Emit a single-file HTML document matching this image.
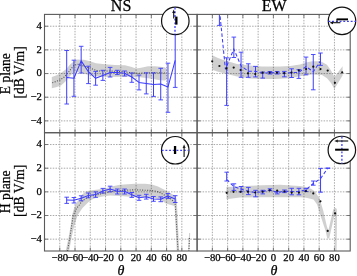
<!DOCTYPE html>
<html><head><meta charset="utf-8"><style>html,body{margin:0;padding:0;background:#fff;width:357px;height:276px;overflow:hidden}svg{display:block;will-change:transform}</style></head><body>
<svg width="357" height="276" viewBox="0 0 357 276">
<style>.g{stroke:#a0a0a0;stroke-width:0.9;stroke-dasharray:1.5 1.25;fill:none}.t{stroke:#6a6a6a;stroke-width:0.9}.eb{stroke:#3c3cff;stroke-width:1.0;fill:none}.cap{stroke-width:0.9}.bl{stroke:#3c3cff;stroke-width:1.05;fill:none;stroke-linejoin:round}.bd{stroke:#3c3cff;stroke-width:1.05;fill:none;stroke-dasharray:3.5 2.2}.sim{stroke:#505050;stroke-width:1.1;fill:none;stroke-dasharray:1 1.5}.fr{stroke:#5a5a5a;stroke-width:1.1;fill:none}text{font-family:"Liberation Serif",serif;fill:#000;stroke:#000;stroke-width:0.25}</style>
<rect width="357" height="276" fill="#fff"/>
<defs>
<clipPath id="cTL"><rect x="44.50" y="14.40" width="152.60" height="118.30"/></clipPath>
<clipPath id="cTR"><rect x="197.10" y="14.40" width="153.10" height="118.30"/></clipPath>
<clipPath id="cBL"><rect x="44.50" y="132.70" width="152.60" height="118.30"/></clipPath>
<clipPath id="cBR"><rect x="197.10" y="132.70" width="153.10" height="118.30"/></clipPath>
</defs>
<g clip-path="url(#cTL)">
<line x1="59.76" y1="14.40" x2="59.76" y2="132.70" class="g"/>
<line x1="75.02" y1="14.40" x2="75.02" y2="132.70" class="g"/>
<line x1="90.28" y1="14.40" x2="90.28" y2="132.70" class="g"/>
<line x1="105.54" y1="14.40" x2="105.54" y2="132.70" class="g"/>
<line x1="120.80" y1="14.40" x2="120.80" y2="132.70" class="g"/>
<line x1="136.06" y1="14.40" x2="136.06" y2="132.70" class="g"/>
<line x1="151.32" y1="14.40" x2="151.32" y2="132.70" class="g"/>
<line x1="166.58" y1="14.40" x2="166.58" y2="132.70" class="g"/>
<line x1="181.84" y1="14.40" x2="181.84" y2="132.70" class="g"/>
<line x1="44.50" y1="120.87" x2="197.10" y2="120.87" class="g"/>
<line x1="44.50" y1="97.21" x2="197.10" y2="97.21" class="g"/>
<line x1="44.50" y1="73.55" x2="197.10" y2="73.55" class="g"/>
<line x1="44.50" y1="49.89" x2="197.10" y2="49.89" class="g"/>
<line x1="44.50" y1="26.23" x2="197.10" y2="26.23" class="g"/>
<polygon points="51.80,76.90 56.00,75.50 61.00,73.00 66.30,69.00 70.00,64.50 74.00,61.20 77.00,59.60 84.00,59.80 90.00,61.20 96.00,63.20 105.00,64.30 115.00,65.00 125.00,65.30 131.00,66.80 136.00,68.40 141.00,67.80 148.00,66.30 155.00,66.20 160.00,66.80 164.50,67.30 166.80,68.50 166.80,79.50 164.50,80.50 160.00,80.20 150.00,78.60 140.00,77.20 125.00,76.80 110.00,76.90 100.00,76.60 92.00,75.80 86.00,74.20 80.00,72.60 76.00,71.80 73.00,73.00 70.00,76.00 66.30,80.80 61.00,85.40 56.00,87.30 51.80,88.30" fill="#000" fill-opacity="0.185"/>
<polyline points="52.30,82.80 59.80,80.10 64.40,76.90 68.90,71.60 74.10,65.10 78.00,64.30 82.00,65.50 88.00,67.40 93.00,69.20 98.00,71.00 110.00,71.00 120.00,71.50 130.00,72.60 137.00,73.40 145.00,72.90 152.00,72.60 160.00,72.90 166.50,73.00" class="sim"/>
<polyline points="66.70,77.50 73.93,78.30 81.17,60.90 88.40,71.70 95.63,78.30 102.87,75.40 110.10,72.50 117.33,72.50 124.56,73.20 131.80,77.00 139.03,82.40 146.26,83.50 153.50,84.50 160.73,84.10 167.96,87.10 175.19,60.30" class="bl"/>
<line x1="66.70" y1="50.50" x2="66.70" y2="104.00" class="eb"/>
<line x1="64.40" y1="50.50" x2="69.00" y2="50.50" class="eb cap"/>
<line x1="64.40" y1="104.00" x2="69.00" y2="104.00" class="eb cap"/>
<line x1="73.93" y1="60.20" x2="73.93" y2="96.30" class="eb"/>
<line x1="71.63" y1="60.20" x2="76.23" y2="60.20" class="eb cap"/>
<line x1="71.63" y1="96.30" x2="76.23" y2="96.30" class="eb cap"/>
<line x1="81.17" y1="46.30" x2="81.17" y2="73.00" class="eb"/>
<line x1="78.87" y1="46.30" x2="83.47" y2="46.30" class="eb cap"/>
<line x1="78.87" y1="73.00" x2="83.47" y2="73.00" class="eb cap"/>
<line x1="88.40" y1="66.20" x2="88.40" y2="83.60" class="eb"/>
<line x1="86.10" y1="66.20" x2="90.70" y2="66.20" class="eb cap"/>
<line x1="86.10" y1="83.60" x2="90.70" y2="83.60" class="eb cap"/>
<line x1="95.63" y1="71.40" x2="95.63" y2="85.20" class="eb"/>
<line x1="93.33" y1="71.40" x2="97.93" y2="71.40" class="eb cap"/>
<line x1="93.33" y1="85.20" x2="97.93" y2="85.20" class="eb cap"/>
<line x1="102.87" y1="70.30" x2="102.87" y2="80.40" class="eb"/>
<line x1="100.57" y1="70.30" x2="105.17" y2="70.30" class="eb cap"/>
<line x1="100.57" y1="80.40" x2="105.17" y2="80.40" class="eb cap"/>
<line x1="110.10" y1="67.40" x2="110.10" y2="77.00" class="eb"/>
<line x1="107.80" y1="67.40" x2="112.40" y2="67.40" class="eb cap"/>
<line x1="107.80" y1="77.00" x2="112.40" y2="77.00" class="eb cap"/>
<line x1="117.33" y1="70.30" x2="117.33" y2="74.60" class="eb"/>
<line x1="115.03" y1="70.30" x2="119.63" y2="70.30" class="eb cap"/>
<line x1="115.03" y1="74.60" x2="119.63" y2="74.60" class="eb cap"/>
<line x1="124.56" y1="71.00" x2="124.56" y2="76.00" class="eb"/>
<line x1="122.26" y1="71.00" x2="126.86" y2="71.00" class="eb cap"/>
<line x1="122.26" y1="76.00" x2="126.86" y2="76.00" class="eb cap"/>
<line x1="131.80" y1="73.00" x2="131.80" y2="82.30" class="eb"/>
<line x1="129.50" y1="73.00" x2="134.10" y2="73.00" class="eb cap"/>
<line x1="129.50" y1="82.30" x2="134.10" y2="82.30" class="eb cap"/>
<line x1="139.03" y1="75.10" x2="139.03" y2="89.90" class="eb"/>
<line x1="136.73" y1="75.10" x2="141.33" y2="75.10" class="eb cap"/>
<line x1="136.73" y1="89.90" x2="141.33" y2="89.90" class="eb cap"/>
<line x1="146.26" y1="72.90" x2="146.26" y2="93.90" class="eb"/>
<line x1="143.96" y1="72.90" x2="148.56" y2="72.90" class="eb cap"/>
<line x1="143.96" y1="93.90" x2="148.56" y2="93.90" class="eb cap"/>
<line x1="153.50" y1="72.90" x2="153.50" y2="96.40" class="eb"/>
<line x1="151.20" y1="72.90" x2="155.80" y2="72.90" class="eb cap"/>
<line x1="151.20" y1="96.40" x2="155.80" y2="96.40" class="eb cap"/>
<line x1="160.73" y1="68.30" x2="160.73" y2="99.90" class="eb"/>
<line x1="158.43" y1="68.30" x2="163.03" y2="68.30" class="eb cap"/>
<line x1="158.43" y1="99.90" x2="163.03" y2="99.90" class="eb cap"/>
<line x1="167.96" y1="63.20" x2="167.96" y2="112.30" class="eb"/>
<line x1="165.66" y1="63.20" x2="170.26" y2="63.20" class="eb cap"/>
<line x1="165.66" y1="112.30" x2="170.26" y2="112.30" class="eb cap"/>
<line x1="175.19" y1="20.00" x2="175.19" y2="87.40" class="eb"/>
<line x1="172.89" y1="20.00" x2="177.50" y2="20.00" class="eb cap"/>
<line x1="172.89" y1="87.40" x2="177.50" y2="87.40" class="eb cap"/>
</g>
<g clip-path="url(#cTR)">
<line x1="212.36" y1="14.40" x2="212.36" y2="132.70" class="g"/>
<line x1="227.62" y1="14.40" x2="227.62" y2="132.70" class="g"/>
<line x1="242.88" y1="14.40" x2="242.88" y2="132.70" class="g"/>
<line x1="258.14" y1="14.40" x2="258.14" y2="132.70" class="g"/>
<line x1="273.40" y1="14.40" x2="273.40" y2="132.70" class="g"/>
<line x1="288.66" y1="14.40" x2="288.66" y2="132.70" class="g"/>
<line x1="303.92" y1="14.40" x2="303.92" y2="132.70" class="g"/>
<line x1="319.18" y1="14.40" x2="319.18" y2="132.70" class="g"/>
<line x1="334.44" y1="14.40" x2="334.44" y2="132.70" class="g"/>
<line x1="197.10" y1="120.87" x2="350.20" y2="120.87" class="g"/>
<line x1="197.10" y1="97.21" x2="350.20" y2="97.21" class="g"/>
<line x1="197.10" y1="73.55" x2="350.20" y2="73.55" class="g"/>
<line x1="197.10" y1="49.89" x2="350.20" y2="49.89" class="g"/>
<line x1="197.10" y1="26.23" x2="350.20" y2="26.23" class="g"/>
<polygon points="212.20,55.20 218.00,58.00 225.00,60.50 232.00,62.40 237.00,64.00 250.00,65.60 262.00,66.40 280.00,66.60 290.00,65.90 300.00,64.40 306.00,62.40 312.00,61.20 318.00,61.20 322.00,62.00 327.00,64.80 331.00,70.50 334.40,77.00 342.60,66.20 342.60,75.60 334.40,89.00 331.00,83.00 327.00,78.20 322.00,75.00 312.00,74.50 300.00,76.20 290.00,78.20 275.00,79.00 262.00,79.00 250.00,78.50 237.00,76.40 225.00,73.60 218.00,71.80 212.20,69.70" fill="#000" fill-opacity="0.185"/>
<polyline points="219.00,5.00 225.40,69.30 233.84,49.00 241.06,65.90 248.28,71.20 255.50,71.20 262.72,73.30 269.94,72.60 277.16,72.80 284.38,73.20 291.60,72.60 298.82,72.50 306.04,66.50 313.26,71.80 320.48,61.00" class="bd"/>
<line x1="219.40" y1="0.00" x2="219.40" y2="25.40" class="eb"/>
<line x1="217.10" y1="0.00" x2="221.70" y2="0.00" class="eb cap"/>
<line x1="217.10" y1="25.40" x2="221.70" y2="25.40" class="eb cap"/>
<line x1="226.62" y1="57.80" x2="226.62" y2="105.40" class="eb"/>
<line x1="224.32" y1="57.80" x2="228.92" y2="57.80" class="eb cap"/>
<line x1="224.32" y1="105.40" x2="228.92" y2="105.40" class="eb cap"/>
<line x1="233.84" y1="37.10" x2="233.84" y2="57.50" class="eb"/>
<line x1="231.54" y1="37.10" x2="236.14" y2="37.10" class="eb cap"/>
<line x1="231.54" y1="57.50" x2="236.14" y2="57.50" class="eb cap"/>
<line x1="241.06" y1="52.20" x2="241.06" y2="77.30" class="eb"/>
<line x1="238.76" y1="52.20" x2="243.36" y2="52.20" class="eb cap"/>
<line x1="238.76" y1="77.30" x2="243.36" y2="77.30" class="eb cap"/>
<line x1="248.28" y1="63.80" x2="248.28" y2="77.30" class="eb"/>
<line x1="245.98" y1="63.80" x2="250.58" y2="63.80" class="eb cap"/>
<line x1="245.98" y1="77.30" x2="250.58" y2="77.30" class="eb cap"/>
<line x1="255.50" y1="66.40" x2="255.50" y2="76.90" class="eb"/>
<line x1="253.20" y1="66.40" x2="257.80" y2="66.40" class="eb cap"/>
<line x1="253.20" y1="76.90" x2="257.80" y2="76.90" class="eb cap"/>
<line x1="262.72" y1="72.10" x2="262.72" y2="78.10" class="eb"/>
<line x1="260.42" y1="72.10" x2="265.02" y2="72.10" class="eb cap"/>
<line x1="260.42" y1="78.10" x2="265.02" y2="78.10" class="eb cap"/>
<line x1="269.94" y1="71.50" x2="269.94" y2="74.00" class="eb"/>
<line x1="267.64" y1="71.50" x2="272.24" y2="71.50" class="eb cap"/>
<line x1="267.64" y1="74.00" x2="272.24" y2="74.00" class="eb cap"/>
<line x1="277.16" y1="71.50" x2="277.16" y2="74.00" class="eb"/>
<line x1="274.86" y1="71.50" x2="279.46" y2="71.50" class="eb cap"/>
<line x1="274.86" y1="74.00" x2="279.46" y2="74.00" class="eb cap"/>
<line x1="284.38" y1="71.40" x2="284.38" y2="76.80" class="eb"/>
<line x1="282.08" y1="71.40" x2="286.68" y2="71.40" class="eb cap"/>
<line x1="282.08" y1="76.80" x2="286.68" y2="76.80" class="eb cap"/>
<line x1="291.60" y1="68.80" x2="291.60" y2="77.50" class="eb"/>
<line x1="289.30" y1="68.80" x2="293.90" y2="68.80" class="eb cap"/>
<line x1="289.30" y1="77.50" x2="293.90" y2="77.50" class="eb cap"/>
<line x1="298.82" y1="69.70" x2="298.82" y2="78.40" class="eb"/>
<line x1="296.52" y1="69.70" x2="301.12" y2="69.70" class="eb cap"/>
<line x1="296.52" y1="78.40" x2="301.12" y2="78.40" class="eb cap"/>
<line x1="306.04" y1="57.10" x2="306.04" y2="74.80" class="eb"/>
<line x1="303.74" y1="57.10" x2="308.34" y2="57.10" class="eb cap"/>
<line x1="303.74" y1="74.80" x2="308.34" y2="74.80" class="eb cap"/>
<line x1="313.26" y1="54.50" x2="313.26" y2="89.80" class="eb"/>
<line x1="310.96" y1="54.50" x2="315.56" y2="54.50" class="eb cap"/>
<line x1="310.96" y1="89.80" x2="315.56" y2="89.80" class="eb cap"/>
<line x1="320.48" y1="53.00" x2="320.48" y2="65.40" class="eb"/>
<line x1="318.18" y1="53.00" x2="322.78" y2="53.00" class="eb cap"/>
<line x1="318.18" y1="65.40" x2="322.78" y2="65.40" class="eb cap"/>
<circle cx="212.20" cy="61.30" r="1.10" fill="#111"/>
<circle cx="219.40" cy="66.00" r="1.10" fill="#111"/>
<circle cx="226.50" cy="68.40" r="1.10" fill="#111"/>
<circle cx="233.70" cy="67.60" r="1.10" fill="#111"/>
<circle cx="240.60" cy="70.00" r="1.10" fill="#111"/>
<circle cx="247.90" cy="73.30" r="1.10" fill="#111"/>
<circle cx="255.20" cy="74.00" r="1.10" fill="#111"/>
<circle cx="262.60" cy="72.70" r="1.10" fill="#111"/>
<circle cx="269.70" cy="72.70" r="1.10" fill="#111"/>
<circle cx="276.90" cy="72.70" r="1.10" fill="#111"/>
<circle cx="284.20" cy="73.20" r="1.10" fill="#111"/>
<circle cx="291.50" cy="72.60" r="1.10" fill="#111"/>
<circle cx="298.80" cy="70.40" r="1.10" fill="#111"/>
<circle cx="306.10" cy="69.00" r="1.10" fill="#111"/>
<circle cx="313.30" cy="66.70" r="1.10" fill="#111"/>
<circle cx="320.50" cy="69.10" r="1.10" fill="#111"/>
<circle cx="327.70" cy="70.60" r="1.10" fill="#111"/>
<circle cx="334.90" cy="82.80" r="1.10" fill="#111"/>
<circle cx="342.20" cy="72.40" r="1.10" fill="#111"/>
</g>
<g clip-path="url(#cBL)">
<line x1="59.76" y1="132.70" x2="59.76" y2="251.00" class="g"/>
<line x1="75.02" y1="132.70" x2="75.02" y2="251.00" class="g"/>
<line x1="90.28" y1="132.70" x2="90.28" y2="251.00" class="g"/>
<line x1="105.54" y1="132.70" x2="105.54" y2="251.00" class="g"/>
<line x1="120.80" y1="132.70" x2="120.80" y2="251.00" class="g"/>
<line x1="136.06" y1="132.70" x2="136.06" y2="251.00" class="g"/>
<line x1="151.32" y1="132.70" x2="151.32" y2="251.00" class="g"/>
<line x1="166.58" y1="132.70" x2="166.58" y2="251.00" class="g"/>
<line x1="181.84" y1="132.70" x2="181.84" y2="251.00" class="g"/>
<line x1="44.50" y1="239.17" x2="197.10" y2="239.17" class="g"/>
<line x1="44.50" y1="215.51" x2="197.10" y2="215.51" class="g"/>
<line x1="44.50" y1="191.85" x2="197.10" y2="191.85" class="g"/>
<line x1="44.50" y1="168.19" x2="197.10" y2="168.19" class="g"/>
<line x1="44.50" y1="144.53" x2="197.10" y2="144.53" class="g"/>
<polygon points="65.60,251.50 68.50,238.00 70.60,226.00 72.10,215.00 74.10,208.00 76.30,203.00 78.50,200.00 80.00,197.50 82.00,194.50 86.00,191.50 90.00,190.40 100.00,189.20 106.00,188.30 110.00,186.80 120.00,184.80 135.00,183.80 145.00,183.80 152.00,184.60 158.00,186.50 165.90,190.60 171.00,193.50 175.60,196.00 176.80,200.00 179.20,251.50 176.80,251.50 174.60,206.00 170.00,204.80 165.90,203.50 160.00,199.60 155.00,198.30 150.00,197.70 140.00,197.30 130.00,196.70 120.00,195.90 110.00,195.40 106.00,195.90 100.00,196.90 95.00,198.20 92.00,199.60 88.00,202.40 85.00,205.50 82.50,208.00 77.70,215.00 74.20,226.00 71.50,238.00 69.00,251.50" fill="#000" fill-opacity="0.185"/>
<polyline points="67.50,251.00 69.80,238.00 71.60,226.00 73.10,216.20 76.10,209.10 79.20,205.10 82.00,201.00 86.30,198.30 90.70,196.20 95.00,195.30 102.00,193.60 110.00,191.80 125.00,190.20 135.00,189.80 150.00,190.40 155.00,191.00 160.40,192.70 165.90,196.00 171.30,199.20 175.10,203.00 175.80,212.00 178.00,251.00" class="sim"/>
<polygon points="188.10,251.50 189.10,233.00 190.20,233.00 189.40,251.50" fill="#000" fill-opacity="0.185"/>
<polyline points="189.40,238.00 188.90,251.00" class="sim"/>
<polyline points="66.70,200.10 73.93,200.30 81.17,198.30 88.40,195.40 95.63,194.60 102.87,191.00 110.10,189.00 117.33,191.20 124.56,191.20 131.80,194.80 139.03,197.80 146.26,196.70 153.50,198.90 160.73,199.30 167.96,196.00 175.19,198.90" class="bl"/>
<line x1="66.70" y1="197.20" x2="66.70" y2="203.40" class="eb"/>
<line x1="64.40" y1="197.20" x2="69.00" y2="197.20" class="eb cap"/>
<line x1="64.40" y1="203.40" x2="69.00" y2="203.40" class="eb cap"/>
<line x1="73.93" y1="197.50" x2="73.93" y2="203.00" class="eb"/>
<line x1="71.63" y1="197.50" x2="76.23" y2="197.50" class="eb cap"/>
<line x1="71.63" y1="203.00" x2="76.23" y2="203.00" class="eb cap"/>
<line x1="81.17" y1="195.80" x2="81.17" y2="200.80" class="eb"/>
<line x1="78.87" y1="195.80" x2="83.47" y2="195.80" class="eb cap"/>
<line x1="78.87" y1="200.80" x2="83.47" y2="200.80" class="eb cap"/>
<line x1="88.40" y1="193.00" x2="88.40" y2="197.80" class="eb"/>
<line x1="86.10" y1="193.00" x2="90.70" y2="193.00" class="eb cap"/>
<line x1="86.10" y1="197.80" x2="90.70" y2="197.80" class="eb cap"/>
<line x1="95.63" y1="191.90" x2="95.63" y2="197.30" class="eb"/>
<line x1="93.33" y1="191.90" x2="97.93" y2="191.90" class="eb cap"/>
<line x1="93.33" y1="197.30" x2="97.93" y2="197.30" class="eb cap"/>
<line x1="102.87" y1="188.40" x2="102.87" y2="193.00" class="eb"/>
<line x1="100.57" y1="188.40" x2="105.17" y2="188.40" class="eb cap"/>
<line x1="100.57" y1="193.00" x2="105.17" y2="193.00" class="eb cap"/>
<line x1="110.10" y1="186.20" x2="110.10" y2="191.80" class="eb"/>
<line x1="107.80" y1="186.20" x2="112.40" y2="186.20" class="eb cap"/>
<line x1="107.80" y1="191.80" x2="112.40" y2="191.80" class="eb cap"/>
<line x1="117.33" y1="189.00" x2="117.33" y2="194.00" class="eb"/>
<line x1="115.03" y1="189.00" x2="119.63" y2="189.00" class="eb cap"/>
<line x1="115.03" y1="194.00" x2="119.63" y2="194.00" class="eb cap"/>
<line x1="124.56" y1="189.00" x2="124.56" y2="194.00" class="eb"/>
<line x1="122.26" y1="189.00" x2="126.86" y2="189.00" class="eb cap"/>
<line x1="122.26" y1="194.00" x2="126.86" y2="194.00" class="eb cap"/>
<line x1="131.80" y1="192.50" x2="131.80" y2="197.40" class="eb"/>
<line x1="129.50" y1="192.50" x2="134.10" y2="192.50" class="eb cap"/>
<line x1="129.50" y1="197.40" x2="134.10" y2="197.40" class="eb cap"/>
<line x1="139.03" y1="195.30" x2="139.03" y2="200.30" class="eb"/>
<line x1="136.73" y1="195.30" x2="141.33" y2="195.30" class="eb cap"/>
<line x1="136.73" y1="200.30" x2="141.33" y2="200.30" class="eb cap"/>
<line x1="146.26" y1="194.30" x2="146.26" y2="199.10" class="eb"/>
<line x1="143.96" y1="194.30" x2="148.56" y2="194.30" class="eb cap"/>
<line x1="143.96" y1="199.10" x2="148.56" y2="199.10" class="eb cap"/>
<line x1="153.50" y1="196.50" x2="153.50" y2="201.30" class="eb"/>
<line x1="151.20" y1="196.50" x2="155.80" y2="196.50" class="eb cap"/>
<line x1="151.20" y1="201.30" x2="155.80" y2="201.30" class="eb cap"/>
<line x1="160.73" y1="196.90" x2="160.73" y2="201.70" class="eb"/>
<line x1="158.43" y1="196.90" x2="163.03" y2="196.90" class="eb cap"/>
<line x1="158.43" y1="201.70" x2="163.03" y2="201.70" class="eb cap"/>
<line x1="167.96" y1="193.60" x2="167.96" y2="198.40" class="eb"/>
<line x1="165.66" y1="193.60" x2="170.26" y2="193.60" class="eb cap"/>
<line x1="165.66" y1="198.40" x2="170.26" y2="198.40" class="eb cap"/>
<line x1="175.19" y1="195.70" x2="175.19" y2="202.50" class="eb"/>
<line x1="172.89" y1="195.70" x2="177.50" y2="195.70" class="eb cap"/>
<line x1="172.89" y1="202.50" x2="177.50" y2="202.50" class="eb cap"/>
</g>
<g clip-path="url(#cBR)">
<line x1="212.36" y1="132.70" x2="212.36" y2="251.00" class="g"/>
<line x1="227.62" y1="132.70" x2="227.62" y2="251.00" class="g"/>
<line x1="242.88" y1="132.70" x2="242.88" y2="251.00" class="g"/>
<line x1="258.14" y1="132.70" x2="258.14" y2="251.00" class="g"/>
<line x1="273.40" y1="132.70" x2="273.40" y2="251.00" class="g"/>
<line x1="288.66" y1="132.70" x2="288.66" y2="251.00" class="g"/>
<line x1="303.92" y1="132.70" x2="303.92" y2="251.00" class="g"/>
<line x1="319.18" y1="132.70" x2="319.18" y2="251.00" class="g"/>
<line x1="334.44" y1="132.70" x2="334.44" y2="251.00" class="g"/>
<line x1="197.10" y1="239.17" x2="350.20" y2="239.17" class="g"/>
<line x1="197.10" y1="215.51" x2="350.20" y2="215.51" class="g"/>
<line x1="197.10" y1="191.85" x2="350.20" y2="191.85" class="g"/>
<line x1="197.10" y1="168.19" x2="350.20" y2="168.19" class="g"/>
<line x1="197.10" y1="144.53" x2="350.20" y2="144.53" class="g"/>
<polygon points="226.40,186.90 240.00,186.20 262.00,185.20 280.00,184.80 300.00,186.00 306.00,187.00 311.00,188.80 315.00,191.50 319.50,198.50 323.20,210.50 326.80,226.00 328.30,230.50 333.20,209.50 335.50,207.80 336.80,209.00 337.00,214.00 336.60,251.50 335.10,251.50 335.00,216.00 334.60,214.50 329.20,238.50 327.20,238.20 325.60,231.00 320.80,216.50 317.10,204.40 313.50,199.50 306.00,197.80 300.00,197.30 280.00,197.20 262.00,197.30 240.00,197.50 226.40,199.30" fill="#000" fill-opacity="0.185"/>
<polyline points="226.70,179.50 233.92,186.70 241.14,189.00 248.36,191.40 255.58,192.50 262.80,191.70 270.02,189.80 277.24,192.60 284.46,191.20 291.68,191.50 298.90,191.50 306.12,189.70 313.34,183.50 320.56,178.50 327.78,168.20" class="bd"/>
<line x1="226.70" y1="172.20" x2="226.70" y2="181.00" class="eb"/>
<line x1="224.40" y1="172.20" x2="229.00" y2="172.20" class="eb cap"/>
<line x1="224.40" y1="181.00" x2="229.00" y2="181.00" class="eb cap"/>
<line x1="233.92" y1="183.80" x2="233.92" y2="190.40" class="eb"/>
<line x1="231.62" y1="183.80" x2="236.22" y2="183.80" class="eb cap"/>
<line x1="231.62" y1="190.40" x2="236.22" y2="190.40" class="eb cap"/>
<line x1="241.14" y1="186.50" x2="241.14" y2="191.80" class="eb"/>
<line x1="238.84" y1="186.50" x2="243.44" y2="186.50" class="eb cap"/>
<line x1="238.84" y1="191.80" x2="243.44" y2="191.80" class="eb cap"/>
<line x1="248.36" y1="187.40" x2="248.36" y2="194.60" class="eb"/>
<line x1="246.06" y1="187.40" x2="250.66" y2="187.40" class="eb cap"/>
<line x1="246.06" y1="194.60" x2="250.66" y2="194.60" class="eb cap"/>
<line x1="255.58" y1="190.30" x2="255.58" y2="196.80" class="eb"/>
<line x1="253.28" y1="190.30" x2="257.88" y2="190.30" class="eb cap"/>
<line x1="253.28" y1="196.80" x2="257.88" y2="196.80" class="eb cap"/>
<line x1="262.80" y1="190.30" x2="262.80" y2="193.90" class="eb"/>
<line x1="260.50" y1="190.30" x2="265.10" y2="190.30" class="eb cap"/>
<line x1="260.50" y1="193.90" x2="265.10" y2="193.90" class="eb cap"/>
<line x1="270.02" y1="188.80" x2="270.02" y2="190.60" class="eb"/>
<line x1="267.72" y1="188.80" x2="272.32" y2="188.80" class="eb cap"/>
<line x1="267.72" y1="190.60" x2="272.32" y2="190.60" class="eb cap"/>
<line x1="277.24" y1="191.70" x2="277.24" y2="193.90" class="eb"/>
<line x1="274.94" y1="191.70" x2="279.54" y2="191.70" class="eb cap"/>
<line x1="274.94" y1="193.90" x2="279.54" y2="193.90" class="eb cap"/>
<line x1="284.46" y1="190.00" x2="284.46" y2="192.60" class="eb"/>
<line x1="282.16" y1="190.00" x2="286.76" y2="190.00" class="eb cap"/>
<line x1="282.16" y1="192.60" x2="286.76" y2="192.60" class="eb cap"/>
<line x1="291.68" y1="188.30" x2="291.68" y2="194.80" class="eb"/>
<line x1="289.38" y1="188.30" x2="293.98" y2="188.30" class="eb cap"/>
<line x1="289.38" y1="194.80" x2="293.98" y2="194.80" class="eb cap"/>
<line x1="298.90" y1="188.30" x2="298.90" y2="194.80" class="eb"/>
<line x1="296.60" y1="188.30" x2="301.20" y2="188.30" class="eb cap"/>
<line x1="296.60" y1="194.80" x2="301.20" y2="194.80" class="eb cap"/>
<line x1="306.12" y1="188.40" x2="306.12" y2="191.50" class="eb"/>
<line x1="303.82" y1="188.40" x2="308.42" y2="188.40" class="eb cap"/>
<line x1="303.82" y1="191.50" x2="308.42" y2="191.50" class="eb cap"/>
<line x1="313.34" y1="181.00" x2="313.34" y2="185.20" class="eb"/>
<line x1="311.04" y1="181.00" x2="315.64" y2="181.00" class="eb cap"/>
<line x1="311.04" y1="185.20" x2="315.64" y2="185.20" class="eb cap"/>
<line x1="320.56" y1="168.40" x2="320.56" y2="192.20" class="eb"/>
<line x1="318.26" y1="168.40" x2="322.86" y2="168.40" class="eb cap"/>
<line x1="318.26" y1="192.20" x2="322.86" y2="192.20" class="eb cap"/>
<line x1="327.78" y1="168.00" x2="327.78" y2="168.40" class="eb"/>
<line x1="325.48" y1="168.00" x2="330.08" y2="168.00" class="eb cap"/>
<line x1="325.48" y1="168.40" x2="330.08" y2="168.40" class="eb cap"/>
<circle cx="226.70" cy="192.80" r="1.10" fill="#111"/>
<circle cx="233.50" cy="191.80" r="1.10" fill="#111"/>
<circle cx="240.60" cy="191.80" r="1.10" fill="#111"/>
<circle cx="247.90" cy="191.70" r="1.10" fill="#111"/>
<circle cx="255.20" cy="192.50" r="1.10" fill="#111"/>
<circle cx="262.50" cy="191.70" r="1.10" fill="#111"/>
<circle cx="269.70" cy="190.30" r="1.10" fill="#111"/>
<circle cx="277.20" cy="190.70" r="1.10" fill="#111"/>
<circle cx="284.40" cy="191.50" r="1.10" fill="#111"/>
<circle cx="291.70" cy="192.60" r="1.10" fill="#111"/>
<circle cx="298.90" cy="192.60" r="1.10" fill="#111"/>
<circle cx="305.90" cy="191.20" r="1.10" fill="#111"/>
<circle cx="313.30" cy="193.40" r="1.10" fill="#111"/>
<circle cx="320.40" cy="201.30" r="1.10" fill="#111"/>
<circle cx="327.70" cy="230.90" r="1.10" fill="#111"/>
<circle cx="335.10" cy="213.40" r="1.10" fill="#111"/>
</g>
<line x1="59.76" y1="132.70" x2="59.76" y2="129.20" class="t"/>
<line x1="59.76" y1="14.40" x2="59.76" y2="17.90" class="t"/>
<line x1="75.02" y1="132.70" x2="75.02" y2="129.20" class="t"/>
<line x1="75.02" y1="14.40" x2="75.02" y2="17.90" class="t"/>
<line x1="90.28" y1="132.70" x2="90.28" y2="129.20" class="t"/>
<line x1="90.28" y1="14.40" x2="90.28" y2="17.90" class="t"/>
<line x1="105.54" y1="132.70" x2="105.54" y2="129.20" class="t"/>
<line x1="105.54" y1="14.40" x2="105.54" y2="17.90" class="t"/>
<line x1="120.80" y1="132.70" x2="120.80" y2="129.20" class="t"/>
<line x1="120.80" y1="14.40" x2="120.80" y2="17.90" class="t"/>
<line x1="136.06" y1="132.70" x2="136.06" y2="129.20" class="t"/>
<line x1="136.06" y1="14.40" x2="136.06" y2="17.90" class="t"/>
<line x1="151.32" y1="132.70" x2="151.32" y2="129.20" class="t"/>
<line x1="151.32" y1="14.40" x2="151.32" y2="17.90" class="t"/>
<line x1="166.58" y1="132.70" x2="166.58" y2="129.20" class="t"/>
<line x1="166.58" y1="14.40" x2="166.58" y2="17.90" class="t"/>
<line x1="181.84" y1="132.70" x2="181.84" y2="129.20" class="t"/>
<line x1="181.84" y1="14.40" x2="181.84" y2="17.90" class="t"/>
<line x1="44.50" y1="120.87" x2="48.00" y2="120.87" class="t"/>
<line x1="197.10" y1="120.87" x2="193.60" y2="120.87" class="t"/>
<line x1="44.50" y1="97.21" x2="48.00" y2="97.21" class="t"/>
<line x1="197.10" y1="97.21" x2="193.60" y2="97.21" class="t"/>
<line x1="44.50" y1="73.55" x2="48.00" y2="73.55" class="t"/>
<line x1="197.10" y1="73.55" x2="193.60" y2="73.55" class="t"/>
<line x1="44.50" y1="49.89" x2="48.00" y2="49.89" class="t"/>
<line x1="197.10" y1="49.89" x2="193.60" y2="49.89" class="t"/>
<line x1="44.50" y1="26.23" x2="48.00" y2="26.23" class="t"/>
<line x1="197.10" y1="26.23" x2="193.60" y2="26.23" class="t"/>
<rect x="44.50" y="14.40" width="152.60" height="118.30" class="fr"/>
<line x1="212.36" y1="132.70" x2="212.36" y2="129.20" class="t"/>
<line x1="212.36" y1="14.40" x2="212.36" y2="17.90" class="t"/>
<line x1="227.62" y1="132.70" x2="227.62" y2="129.20" class="t"/>
<line x1="227.62" y1="14.40" x2="227.62" y2="17.90" class="t"/>
<line x1="242.88" y1="132.70" x2="242.88" y2="129.20" class="t"/>
<line x1="242.88" y1="14.40" x2="242.88" y2="17.90" class="t"/>
<line x1="258.14" y1="132.70" x2="258.14" y2="129.20" class="t"/>
<line x1="258.14" y1="14.40" x2="258.14" y2="17.90" class="t"/>
<line x1="273.40" y1="132.70" x2="273.40" y2="129.20" class="t"/>
<line x1="273.40" y1="14.40" x2="273.40" y2="17.90" class="t"/>
<line x1="288.66" y1="132.70" x2="288.66" y2="129.20" class="t"/>
<line x1="288.66" y1="14.40" x2="288.66" y2="17.90" class="t"/>
<line x1="303.92" y1="132.70" x2="303.92" y2="129.20" class="t"/>
<line x1="303.92" y1="14.40" x2="303.92" y2="17.90" class="t"/>
<line x1="319.18" y1="132.70" x2="319.18" y2="129.20" class="t"/>
<line x1="319.18" y1="14.40" x2="319.18" y2="17.90" class="t"/>
<line x1="334.44" y1="132.70" x2="334.44" y2="129.20" class="t"/>
<line x1="334.44" y1="14.40" x2="334.44" y2="17.90" class="t"/>
<line x1="197.10" y1="120.87" x2="200.60" y2="120.87" class="t"/>
<line x1="350.20" y1="120.87" x2="346.70" y2="120.87" class="t"/>
<line x1="197.10" y1="97.21" x2="200.60" y2="97.21" class="t"/>
<line x1="350.20" y1="97.21" x2="346.70" y2="97.21" class="t"/>
<line x1="197.10" y1="73.55" x2="200.60" y2="73.55" class="t"/>
<line x1="350.20" y1="73.55" x2="346.70" y2="73.55" class="t"/>
<line x1="197.10" y1="49.89" x2="200.60" y2="49.89" class="t"/>
<line x1="350.20" y1="49.89" x2="346.70" y2="49.89" class="t"/>
<line x1="197.10" y1="26.23" x2="200.60" y2="26.23" class="t"/>
<line x1="350.20" y1="26.23" x2="346.70" y2="26.23" class="t"/>
<rect x="197.10" y="14.40" width="153.10" height="118.30" class="fr"/>
<line x1="59.76" y1="251.00" x2="59.76" y2="247.50" class="t"/>
<line x1="59.76" y1="132.70" x2="59.76" y2="136.20" class="t"/>
<line x1="75.02" y1="251.00" x2="75.02" y2="247.50" class="t"/>
<line x1="75.02" y1="132.70" x2="75.02" y2="136.20" class="t"/>
<line x1="90.28" y1="251.00" x2="90.28" y2="247.50" class="t"/>
<line x1="90.28" y1="132.70" x2="90.28" y2="136.20" class="t"/>
<line x1="105.54" y1="251.00" x2="105.54" y2="247.50" class="t"/>
<line x1="105.54" y1="132.70" x2="105.54" y2="136.20" class="t"/>
<line x1="120.80" y1="251.00" x2="120.80" y2="247.50" class="t"/>
<line x1="120.80" y1="132.70" x2="120.80" y2="136.20" class="t"/>
<line x1="136.06" y1="251.00" x2="136.06" y2="247.50" class="t"/>
<line x1="136.06" y1="132.70" x2="136.06" y2="136.20" class="t"/>
<line x1="151.32" y1="251.00" x2="151.32" y2="247.50" class="t"/>
<line x1="151.32" y1="132.70" x2="151.32" y2="136.20" class="t"/>
<line x1="166.58" y1="251.00" x2="166.58" y2="247.50" class="t"/>
<line x1="166.58" y1="132.70" x2="166.58" y2="136.20" class="t"/>
<line x1="181.84" y1="251.00" x2="181.84" y2="247.50" class="t"/>
<line x1="181.84" y1="132.70" x2="181.84" y2="136.20" class="t"/>
<line x1="44.50" y1="239.17" x2="48.00" y2="239.17" class="t"/>
<line x1="197.10" y1="239.17" x2="193.60" y2="239.17" class="t"/>
<line x1="44.50" y1="215.51" x2="48.00" y2="215.51" class="t"/>
<line x1="197.10" y1="215.51" x2="193.60" y2="215.51" class="t"/>
<line x1="44.50" y1="191.85" x2="48.00" y2="191.85" class="t"/>
<line x1="197.10" y1="191.85" x2="193.60" y2="191.85" class="t"/>
<line x1="44.50" y1="168.19" x2="48.00" y2="168.19" class="t"/>
<line x1="197.10" y1="168.19" x2="193.60" y2="168.19" class="t"/>
<line x1="44.50" y1="144.53" x2="48.00" y2="144.53" class="t"/>
<line x1="197.10" y1="144.53" x2="193.60" y2="144.53" class="t"/>
<rect x="44.50" y="132.70" width="152.60" height="118.30" class="fr"/>
<line x1="212.36" y1="251.00" x2="212.36" y2="247.50" class="t"/>
<line x1="212.36" y1="132.70" x2="212.36" y2="136.20" class="t"/>
<line x1="227.62" y1="251.00" x2="227.62" y2="247.50" class="t"/>
<line x1="227.62" y1="132.70" x2="227.62" y2="136.20" class="t"/>
<line x1="242.88" y1="251.00" x2="242.88" y2="247.50" class="t"/>
<line x1="242.88" y1="132.70" x2="242.88" y2="136.20" class="t"/>
<line x1="258.14" y1="251.00" x2="258.14" y2="247.50" class="t"/>
<line x1="258.14" y1="132.70" x2="258.14" y2="136.20" class="t"/>
<line x1="273.40" y1="251.00" x2="273.40" y2="247.50" class="t"/>
<line x1="273.40" y1="132.70" x2="273.40" y2="136.20" class="t"/>
<line x1="288.66" y1="251.00" x2="288.66" y2="247.50" class="t"/>
<line x1="288.66" y1="132.70" x2="288.66" y2="136.20" class="t"/>
<line x1="303.92" y1="251.00" x2="303.92" y2="247.50" class="t"/>
<line x1="303.92" y1="132.70" x2="303.92" y2="136.20" class="t"/>
<line x1="319.18" y1="251.00" x2="319.18" y2="247.50" class="t"/>
<line x1="319.18" y1="132.70" x2="319.18" y2="136.20" class="t"/>
<line x1="334.44" y1="251.00" x2="334.44" y2="247.50" class="t"/>
<line x1="334.44" y1="132.70" x2="334.44" y2="136.20" class="t"/>
<line x1="197.10" y1="239.17" x2="200.60" y2="239.17" class="t"/>
<line x1="350.20" y1="239.17" x2="346.70" y2="239.17" class="t"/>
<line x1="197.10" y1="215.51" x2="200.60" y2="215.51" class="t"/>
<line x1="350.20" y1="215.51" x2="346.70" y2="215.51" class="t"/>
<line x1="197.10" y1="191.85" x2="200.60" y2="191.85" class="t"/>
<line x1="350.20" y1="191.85" x2="346.70" y2="191.85" class="t"/>
<line x1="197.10" y1="168.19" x2="200.60" y2="168.19" class="t"/>
<line x1="350.20" y1="168.19" x2="346.70" y2="168.19" class="t"/>
<line x1="197.10" y1="144.53" x2="200.60" y2="144.53" class="t"/>
<line x1="350.20" y1="144.53" x2="346.70" y2="144.53" class="t"/>
<rect x="197.10" y="132.70" width="153.10" height="118.30" class="fr"/>
<text x="41.9" y="119.57" font-size="10.7" text-anchor="end" dominant-baseline="central">−4</text>
<text x="41.9" y="95.91" font-size="10.7" text-anchor="end" dominant-baseline="central">−2</text>
<text x="41.9" y="72.25" font-size="10.7" text-anchor="end" dominant-baseline="central">0</text>
<text x="41.9" y="48.59" font-size="10.7" text-anchor="end" dominant-baseline="central">2</text>
<text x="41.9" y="24.93" font-size="10.7" text-anchor="end" dominant-baseline="central">4</text>
<text x="41.9" y="237.87" font-size="10.7" text-anchor="end" dominant-baseline="central">−4</text>
<text x="41.9" y="214.21" font-size="10.7" text-anchor="end" dominant-baseline="central">−2</text>
<text x="41.9" y="190.55" font-size="10.7" text-anchor="end" dominant-baseline="central">0</text>
<text x="41.9" y="166.89" font-size="10.7" text-anchor="end" dominant-baseline="central">2</text>
<text x="41.9" y="143.23" font-size="10.7" text-anchor="end" dominant-baseline="central">4</text>
<text x="59.76" y="261.4" font-size="10.7" text-anchor="middle">−80</text>
<text x="75.02" y="261.4" font-size="10.7" text-anchor="middle">−60</text>
<text x="90.28" y="261.4" font-size="10.7" text-anchor="middle">−40</text>
<text x="105.54" y="261.4" font-size="10.7" text-anchor="middle">−20</text>
<text x="120.80" y="261.4" font-size="10.7" text-anchor="middle">0</text>
<text x="136.06" y="261.4" font-size="10.7" text-anchor="middle">20</text>
<text x="151.32" y="261.4" font-size="10.7" text-anchor="middle">40</text>
<text x="166.58" y="261.4" font-size="10.7" text-anchor="middle">60</text>
<text x="181.84" y="261.4" font-size="10.7" text-anchor="middle">80</text>
<text x="212.36" y="261.4" font-size="10.7" text-anchor="middle">−80</text>
<text x="227.62" y="261.4" font-size="10.7" text-anchor="middle">−60</text>
<text x="242.88" y="261.4" font-size="10.7" text-anchor="middle">−40</text>
<text x="258.14" y="261.4" font-size="10.7" text-anchor="middle">−20</text>
<text x="273.40" y="261.4" font-size="10.7" text-anchor="middle">0</text>
<text x="288.66" y="261.4" font-size="10.7" text-anchor="middle">20</text>
<text x="303.92" y="261.4" font-size="10.7" text-anchor="middle">40</text>
<text x="319.18" y="261.4" font-size="10.7" text-anchor="middle">60</text>
<text x="334.44" y="261.4" font-size="10.7" text-anchor="middle">80</text>
<text x="121.1" y="10.8" font-size="16" text-anchor="middle">NS</text>
<text x="274.2" y="10.8" font-size="16" text-anchor="middle">EW</text>
<text transform="translate(9.9,73.70) rotate(-90)" font-size="13.6" text-anchor="middle">E plane</text>
<text transform="translate(23.7,72.40) rotate(-90)" font-size="13.6" text-anchor="middle">[dB V/m]</text>
<text transform="translate(9.9,191.80) rotate(-90)" font-size="13.6" text-anchor="middle">H plane</text>
<text transform="translate(23.7,190.75) rotate(-90)" font-size="13.6" text-anchor="middle">[dB V/m]</text>
<text x="121" y="275" font-size="14" font-style="italic" text-anchor="middle">θ</text>
<text x="274" y="275" font-size="14" font-style="italic" text-anchor="middle">θ</text>
<circle cx="175.30" cy="20.90" r="13.75" fill="#fff" stroke="#111" stroke-width="1.2"/>
<line x1="175.0" y1="7.6" x2="175.0" y2="34.4" stroke="#3c3cff" stroke-width="1.3" stroke-dasharray="1.9 1.8"/>
<rect x="175.2" y="16.6" width="2.3" height="8" fill="#000"/>
<line x1="173.7" y1="18.4" x2="173.7" y2="12.0" stroke="#111" stroke-width="1.1"/>
<polygon points="172.2,13.0 173.7,9.6 175.2,13.0" fill="#111"/>
<circle cx="342.00" cy="20.80" r="13.75" fill="#fff" stroke="#111" stroke-width="1.2"/>
<line x1="328.5" y1="21.3" x2="356" y2="21.3" stroke="#3c3cff" stroke-width="1.3" stroke-dasharray="1.9 1.8"/>
<rect x="336.6" y="18.4" width="11.4" height="1.9" fill="#000"/>
<line x1="337.0" y1="19" x2="337.0" y2="22.2" stroke="#111" stroke-width="0.9"/>
<line x1="332.0" y1="22.7" x2="340.4" y2="22.7" stroke="#111" stroke-width="1.1"/>
<polygon points="333.0,21.2 329.6,22.7 333.0,24.2" fill="#111"/>
<circle cx="175.25" cy="150.25" r="13.75" fill="#fff" stroke="#111" stroke-width="1.2"/>
<line x1="161.7" y1="150.4" x2="188.8" y2="150.4" stroke="#3c3cff" stroke-width="1.3" stroke-dasharray="1.9 1.8"/>
<rect x="173.9" y="146.0" width="2.3" height="8" fill="#000"/>
<line x1="184.1" y1="157.0" x2="184.1" y2="147.2" stroke="#222" stroke-width="1.2"/>
<polygon points="182.6,148.0 184.1,144.2 185.6,148.0" fill="#222"/>
<circle cx="341.85" cy="150.00" r="13.75" fill="#fff" stroke="#111" stroke-width="1.2"/>
<line x1="341.9" y1="136.6" x2="341.9" y2="163.4" stroke="#3c3cff" stroke-width="1.3" stroke-dasharray="1.9 1.8"/>
<rect x="335.1" y="148.7" width="13.5" height="2.0" fill="#000"/>
<line x1="337.0" y1="141.0" x2="348.2" y2="141.0" stroke="#222" stroke-width="1.2"/>
<polygon points="337.8,139.5 334.2,141.0 337.8,142.5" fill="#222"/>
</svg>
</body></html>
